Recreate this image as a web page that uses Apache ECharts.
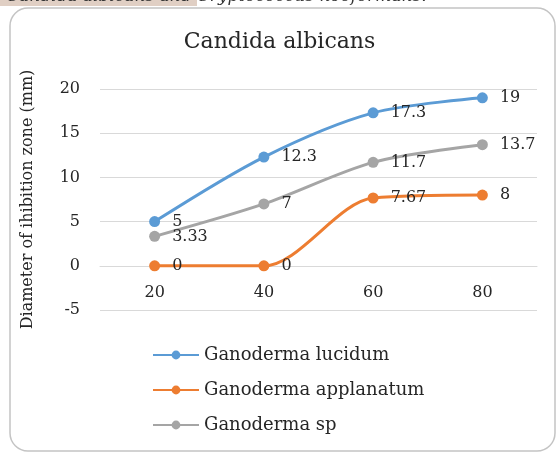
<!DOCTYPE html>
<html>
<head>
<meta charset="utf-8">
<script src="https://cdn.jsdelivr.net/npm/echarts@6/dist/echarts.min.js"></script>
<style>
  html, body { margin: 0; padding: 0; background: #fff; }
  #chart { width: 559px; height: 454px; }
</style>
</head>
<body>
<div id="chart"></div>
<script>
// concentrations on the x axis
const categories = ["20", "40", "60", "80"];
// inhibition zone diameters (mm)
const lucidum = [5, 12.3, 17.3, 19];
const applanatum = [0, 0, 7.67, 8];
const gsp = [3.33, 7, 11.7, 13.7];
const yTicks = { min: -5, max: 20, step: 5 };

const serif = "DejaVu Serif";
const chart = echarts.init(document.getElementById("chart"));

function lineSeries(name, data, color) {
  return {
    name: name,
    type: "line",
    data: data,
    smooth: 0.3,
    symbol: "circle",
    symbolSize: 11,
    lineStyle: { width: 3, color: color },
    itemStyle: { color: color },
    label: {
      show: true,
      position: "right",
      distance: 12,
      fontFamily: serif,
      fontSize: 16,
      color: "#262626",
    },
  };
}

const series = [
  lineSeries("Ganoderma lucidum", lucidum, "#5b9bd5"),
  lineSeries("Ganoderma applanatum", applanatum, "#ed7d31"),
  lineSeries("Ganoderma sp", gsp, "#a5a5a5"),
];
// bottom gridline at the axis minimum
series[0].markLine = {
  silent: true,
  symbol: "none",
  label: { show: false },
  lineStyle: { type: "solid", color: "#d9d9d9", width: 1 },
  data: [{ yAxis: yTicks.min }],
  z: 0,
};

const option = {
  backgroundColor: "#fff",
  animation: false,
  title: {
    text: "Candida albicans",
    left: "center",
    top: 26,
    textStyle: { fontFamily: serif, fontSize: 22, fontWeight: "normal", color: "#262626" },
  },
  graphic: [
    // clipped caption line from the page above the figure
    { type: "rect", shape: { x: 0, y: 0, width: 197, height: 6 }, style: { fill: "#e0cfc4" } },
    {
      type: "text",
      style: {
        x: 6, y: 5,
        text: "Candida albicans and Cryptococcus neoformans.",
        font: "italic 17px " + serif,
        fill: "#333",
        verticalAlign: "bottom",
      },
    },
    {
      type: "rect",
      shape: { x: 10, y: 8, width: 545, height: 443, r: 18 },
      style: { fill: "none", stroke: "#c4c4c4", lineWidth: 1.5 },
      z: -1,
    },
  ],
  legend: {
    orient: "vertical",
    left: 147,
    top: 341,
    itemGap: 17,
    itemWidth: 46,
    itemHeight: 11,
    textStyle: { fontFamily: serif, fontSize: 18, color: "#262626" },
    data: ["Ganoderma lucidum", "Ganoderma applanatum", "Ganoderma sp"],
  },
  grid: { left: 100, right: 22, top: 89, bottom: 144 },
  xAxis: {
    // category axis, moved up from the bottom edge onto the 0 line
    type: "category",
    data: categories,
    boundaryGap: true,
    offset: -44.2,
    axisTick: { show: false },
    axisLine: { onZero: false, lineStyle: { color: "#d9d9d9", width: 1 } },
    axisLabel: { fontFamily: serif, fontSize: 16, color: "#262626", margin: 19 },
  },
  yAxis: {
    type: "value",
    min: yTicks.min,
    max: yTicks.max,
    interval: yTicks.step,
    name: "Diameter of ihibition zone (mm)",
    nameLocation: "middle",
    nameGap: 64,
    nameTextStyle: { fontFamily: serif, fontSize: 16, color: "#262626" },
    axisLine: { show: false },
    axisTick: { show: false },
    axisLabel: { fontFamily: serif, fontSize: 16, color: "#262626", margin: 20 },
    splitLine: { lineStyle: { color: "#d9d9d9", width: 1 } },
  },
  series: series,
};

chart.setOption(option);
</script>
</body>
</html>
